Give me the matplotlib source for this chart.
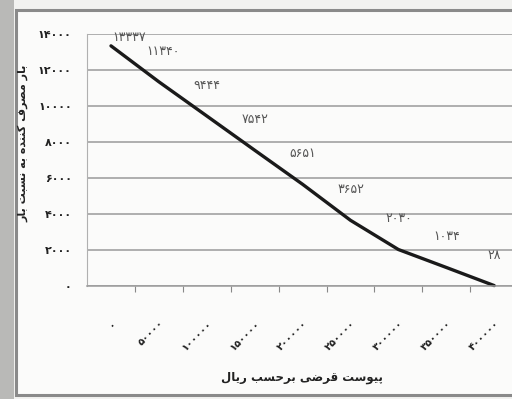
import matplotlib
matplotlib.use("Agg")
import matplotlib.pyplot as plt
from matplotlib.patches import Rectangle

# values
x_values = [0, 50000, 100000, 150000, 200000, 250000, 300000, 350000, 400000]
loads = [13337, 11340, 9444, 7542, 5651, 3652, 2030, 1034, 28]
y_ticks = [0, 2000, 4000, 6000, 8000, 10000, 12000, 14000]
x_title = "پیوست قرضی برحسب ریال"
y_title = "بار مصرف کننده به نسبت بار"

FA_DIGITS = str.maketrans("0123456789", "۰۱۲۳۴۵۶۷۸۹")

# isolated, final, initial, medial presentation forms
FORMS = {
    "ا": ("\uFE8D", "\uFE8E", None, None),
    "ب": ("\uFE8F", "\uFE90", "\uFE91", "\uFE92"),
    "پ": ("\uFB56", "\uFB57", "\uFB58", "\uFB59"),
    "ت": ("\uFE95", "\uFE96", "\uFE97", "\uFE98"),
    "ح": ("\uFEA1", "\uFEA2", "\uFEA3", "\uFEA4"),
    "د": ("\uFEA9", "\uFEAA", None, None),
    "ر": ("\uFEAD", "\uFEAE", None, None),
    "س": ("\uFEB1", "\uFEB2", "\uFEB3", "\uFEB4"),
    "ص": ("\uFEB9", "\uFEBA", "\uFEBB", "\uFEBC"),
    "ض": ("\uFEBD", "\uFEBE", "\uFEBF", "\uFEC0"),
    "ف": ("\uFED1", "\uFED2", "\uFED3", "\uFED4"),
    "ق": ("\uFED5", "\uFED6", "\uFED7", "\uFED8"),
    "ک": ("\uFB8E", "\uFB8F", "\uFB90", "\uFB91"),
    "ل": ("\uFEDD", "\uFEDE", "\uFEDF", "\uFEE0"),
    "م": ("\uFEE1", "\uFEE2", "\uFEE3", "\uFEE4"),
    "ن": ("\uFEE5", "\uFEE6", "\uFEE7", "\uFEE8"),
    "ه": ("\uFEE9", "\uFEEA", "\uFEEB", "\uFEEC"),
    "و": ("\uFEED", "\uFEEE", None, None),
    "ی": ("\uFBFC", "\uFBFD", "\uFBFE", "\uFBFF"),
}


def fa_shape(text):
    """Join Persian letters by hand and reverse them for LTR drawing."""
    out = []
    for i, ch in enumerate(text):
        if ch not in FORMS:
            out.append(ch)
            continue
        prev = text[i - 1] if i > 0 else ""
        nxt = text[i + 1] if i + 1 < len(text) else ""
        join_prev = prev in FORMS and FORMS[prev][2] is not None
        join_next = nxt in FORMS and FORMS[ch][2] is not None
        iso, fin, ini, med = FORMS[ch]
        if join_prev and join_next:
            out.append(med)
        elif join_prev:
            out.append(fin)
        elif join_next:
            out.append(ini)
        else:
            out.append(iso)
    return "".join(reversed(out))


def fa_num(v):
    return str(v).translate(FA_DIGITS)


fig = plt.figure(figsize=(5.12, 3.99), dpi=100, facecolor="#f2f2f0")
fig.patches.append(Rectangle((0, 0), 0.027, 1, transform=fig.transFigure,
                             facecolor="#b9b9b7", edgecolor="none",
                             zorder=-2))
fig.patches.append(Rectangle((0.032, 0.01), 0.99, 0.965,
                             transform=fig.transFigure, facecolor="#fbfbfa",
                             edgecolor="#8a8a8a", linewidth=2.2, zorder=-1))

ax = fig.add_axes([0.170, 0.283, 0.842, 0.632])
ax.set_zorder(2)
ax.set_facecolor("none")
pos = list(range(len(loads)))
ax.plot(pos, loads, color="#1a1a1a", linewidth=2.4, solid_capstyle="round",
        clip_on=False)

offsets = [(13, 6)] + [(3, 22)] + [(0, 22)] * (len(loads) - 2)
for p, v, off in zip(pos, loads, offsets):
    ax.annotate(fa_num(v), (p, v), xytext=off, textcoords="offset points",
                ha="center", va="center", fontsize=9, color="#555555")

ax.set_xlim(-0.5, len(loads) - 0.5)
ax.set_ylim(0, 14000)
ax.set_yticks(y_ticks)
ax.set_yticklabels([fa_num(t) for t in y_ticks], fontsize=8,
                   fontweight="bold", color="#222222")
ax.yaxis.grid(True, color="#9a9a9a", linewidth=1.1)
ax.set_axisbelow(True)
ax.tick_params(axis="y", length=0, pad=11)

ax.set_xticks([p + 0.5 for p in pos[:-1]], minor=False)
ax.set_xticklabels([])
ax.tick_params(axis="x", length=4, color="#888888", direction="out")
ax.set_xticks(pos, minor=True)
ax.set_xticklabels([fa_num(x) for x in x_values], minor=True, rotation=45,
                   ha="right", va="top", rotation_mode="anchor", fontsize=7.5,
                   fontweight="bold", color="#222222")
ax.tick_params(axis="x", which="minor", length=0, pad=23)

for s in ["top", "right"]:
    ax.spines[s].set_visible(False)
ax.spines["bottom"].set_color("#9a9a9a")
ax.spines["bottom"].set_linewidth(1.1)
ax.spines["left"].set_color("#b0b0b0")
ax.spines["left"].set_linestyle((0, (2, 1)))
ax.spines["left"].set_linewidth(0.8)

fig.text(0.59, 0.055, fa_shape(x_title), ha="center", va="center",
         fontsize=8.5, fontweight="bold", color="#222222")
fig.text(0.046, 0.64, fa_shape(y_title), ha="center", va="center",
         rotation=90, fontsize=8, fontweight="bold", color="#222222")

fig.savefig("out.png", dpi=100, facecolor=fig.get_facecolor())
